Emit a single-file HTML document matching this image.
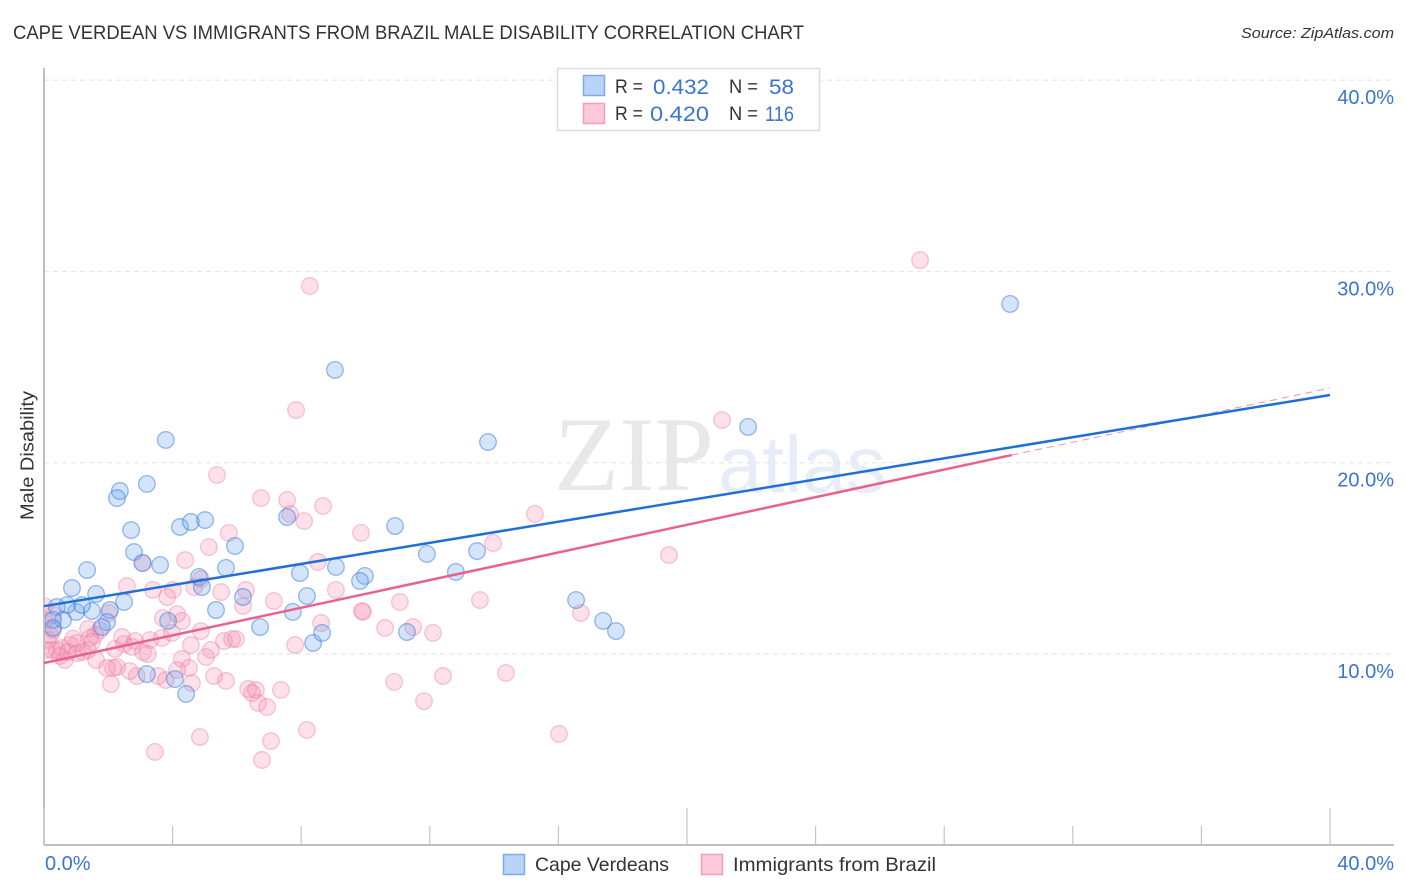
<!DOCTYPE html>
<html lang="en">
<head>
<meta charset="utf-8">
<title>Cape Verdean vs Immigrants from Brazil Male Disability Correlation Chart</title>
<style>
html,body{margin:0;padding:0;background:#fff;width:1406px;height:892px;overflow:hidden}
svg{display:block}
text{font-family:"Liberation Sans",sans-serif}
</style>
</head>
<body>
<svg id="chart" width="1406" height="892" viewBox="0 0 1406 892" xmlns="http://www.w3.org/2000/svg">
  <defs><clipPath id="plot-clip"><rect x="45" y="60" width="1349" height="785"/></clipPath></defs>
  <text x="13" y="39" font-size="19" fill="#333" textLength="791" lengthAdjust="spacingAndGlyphs">CAPE VERDEAN VS IMMIGRANTS FROM BRAZIL MALE DISABILITY CORRELATION CHART</text>
  <text x="1241" y="38" font-size="15" font-style="italic" fill="#333" textLength="153" lengthAdjust="spacingAndGlyphs">Source: ZipAtlas.com</text>
  <text x="554" y="490" font-size="106" fill="#e8e8e8" style="font-family:'Liberation Serif',serif" textLength="160" lengthAdjust="spacingAndGlyphs">ZIP</text>
  <text x="718" y="492" font-size="80" fill="#e6edf9" textLength="168" lengthAdjust="spacingAndGlyphs">atlas</text>
  <g id="grid"></g>
  <g id="axes"></g>
  <g id="points" clip-path="url(#plot-clip)"></g>
  <g id="lines"></g>
  <text transform="translate(33.5,520) rotate(-90)" font-size="18.5" fill="#333" textLength="129" lengthAdjust="spacingAndGlyphs">Male Disability</text>
  <g>
    <rect x="557.5" y="68.5" width="262" height="62" fill="#fff" stroke="#ddd" stroke-width="1.5"/>
    <rect x="583.5" y="75.5" width="21" height="20" fill="#b9d3f7" stroke="#7eaae6" stroke-width="1.5"/>
    <rect x="583.5" y="103.5" width="21" height="20" fill="#fcc9d9" stroke="#f0a0b8" stroke-width="1.5"/>
    <text x="615" y="93" font-size="19.5" fill="#333" textLength="28" lengthAdjust="spacingAndGlyphs">R =</text>
    <text x="653" y="94" font-size="21" fill="#3a74d2" textLength="56" lengthAdjust="spacingAndGlyphs">0.432</text>
    <text x="729" y="93" font-size="19.5" fill="#333" textLength="29" lengthAdjust="spacingAndGlyphs">N =</text>
    <text x="769" y="94" font-size="21" fill="#3a74d2" textLength="25" lengthAdjust="spacingAndGlyphs">58</text>
    <text x="615" y="120" font-size="19.5" fill="#333" textLength="28" lengthAdjust="spacingAndGlyphs">R =</text>
    <text x="650" y="121" font-size="21" fill="#3a74d2" textLength="59" lengthAdjust="spacingAndGlyphs">0.420</text>
    <text x="729" y="120" font-size="19.5" fill="#333" textLength="29" lengthAdjust="spacingAndGlyphs">N =</text>
    <text x="765" y="121" font-size="21" fill="#3a74d2" textLength="29" lengthAdjust="spacingAndGlyphs">116</text>
  </g>
  <g>
    <rect x="503.5" y="854.5" width="21" height="20" fill="#b9d3f7" stroke="#7eaae6" stroke-width="1.5"/>
    <text x="535" y="871" font-size="19.5" fill="#333" textLength="134" lengthAdjust="spacingAndGlyphs">Cape Verdeans</text>
    <rect x="701.5" y="854.5" width="21" height="20" fill="#fcc9d9" stroke="#f0a0b8" stroke-width="1.5"/>
    <text x="733" y="871" font-size="19.5" fill="#333" textLength="203" lengthAdjust="spacingAndGlyphs">Immigrants from Brazil</text>
  </g>
</svg>
<script>
var blueX=[2.80,3.06,3.61,5.94,1.34,0.87,1.62,5.66,4.82,4.91,7.96,9.08,8.18,7.74,6.19,5.35,6.72,2.49,2.05,1.49,1.00,1.18,0.72,0.40,0.59,0.28,1.96,1.80,0.28,3.86,8.37,8.65,3.20,4.07,4.42,30.05,9.05,3.79,13.81,21.90,2.36,2.27,3.20,2.71,4.23,4.57,5.01,7.56,10.92,11.91,13.47,12.81,9.98,9.83,16.55,17.39,17.79,11.29];
var blueY=[15.33,14.76,14.65,15.65,14.39,13.45,13.14,14.50,14.03,13.50,14.23,14.55,13.03,12.20,12.98,12.30,11.41,12.72,12.30,12.25,12.20,12.56,12.56,12.46,11.78,11.78,11.67,11.41,11.36,11.73,10.58,11.10,8.95,8.69,7.91,28.30,24.85,21.19,21.08,21.87,18.52,18.15,18.89,16.48,16.64,16.90,17.00,17.16,16.69,15.23,15.38,14.29,14.08,13.82,12.82,11.73,11.20,11.15];
var pinkX=[27.25,8.27,7.84,21.09,5.38,15.27,13.97,19.44,13.56,16.70,14.37,12.41,10.89,11.82,16.02,6.75,7.56,8.68,8.09,9.86,7.65,5.75,5.13,4.39,8.52,3.08,2.58,3.39,4.01,3.83,4.67,4.88,5.51,6.28,6.19,7.15,9.08,11.07,9.92,9.89,10.61,11.48,12.10,7.81,8.62,4.14,3.70,4.29,4.88,4.57,5.19,5.04,5.60,5.85,5.97,4.29,4.51,4.14,5.29,5.66,4.60,3.79,3.55,2.89,2.67,2.27,1.96,2.15,2.08,1.62,0.65,6.35,6.59,6.47,6.66,6.94,7.37,8.18,7.06,6.78,4.85,3.45,2.02,1.74,1.37,1.59,1.43,2.43,2.83,3.30,3.67,3.98,2.49,2.74,2.21,3.08,3.23,1.21,1.03,0.81,0.56,0.40,0.75,1.03,0.19,0.25,0.28,0.28,0.12,0.06,0.02,0.02,1.37,0.50,1.49,0.90];
var pinkY=[30.59,29.24,22.75,22.23,19.36,17.32,15.80,15.17,12.82,12.14,9.01,8.85,8.54,7.54,5.82,18.15,18.05,17.74,16.95,16.33,17.32,16.33,15.59,14.91,14.81,14.76,13.55,13.35,13.35,12.98,13.50,13.92,13.24,13.35,12.51,12.77,13.35,12.72,12.20,12.25,11.36,11.41,11.10,10.47,11.62,12.09,11.88,11.73,11.20,10.47,10.21,9.84,10.68,10.78,10.78,9.74,9.27,9.16,8.85,8.59,8.48,8.64,8.85,8.85,9.11,9.32,9.27,9.27,8.43,9.69,9.69,8.17,8.12,7.96,7.44,7.23,8.12,6.03,5.45,4.46,5.66,4.88,12.14,11.25,11.31,10.99,10.84,10.89,10.68,10.73,10.84,11.10,10.52,10.37,10.26,10.10,10.00,10.10,10.58,10.47,10.31,10.21,10.10,10.05,10.99,10.21,11.25,12.04,10.73,10.21,12.50,11.78,10.21,9.90,10.63,10.80];
var blueTrendX=[0,40];
var blueTrendY=[12.5,23.54];
var pinkTrendX=[0,30.1];
var pinkTrendY=[9.53,20.4];
var pinkDashX=[30.1,40];
var pinkDashY=[20.4,23.9];
var yTicks=[10,20,30,40];
var yTickLabels=["10.0%","20.0%","30.0%","40.0%"];
var xTicks=[0,4,8,12,16,20,24,28,32,36,40];
var xMajorTicks=[0,20,40];
var xEndLabels=["0.0%","40.0%"];

function sx(v){return 44+v*32.15;}
function sy(v){return 654-(v-10)*19.13;}
var NS='http://www.w3.org/2000/svg';
function make(tag,parent,attrs){
  var e=document.createElementNS(NS,tag);
  for(var k in attrs){e.setAttribute(k,attrs[k]);}
  parent.appendChild(e);
  return e;
}
var gGrid=document.getElementById('grid');
var gAxes=document.getElementById('axes');
var gPts=document.getElementById('points');
var gLines=document.getElementById('lines');

yTicks.forEach(function(t,i){
  var l=make('line',gGrid,{x1:44,x2:1394,y1:sy(t),y2:sy(t),stroke:'#e2e2e2','stroke-width':1,'stroke-dasharray':'5 4'});
  
  
  var tx=make('text',gAxes,{x:1394,y:sy(t)+24,'font-size':20,fill:'#3a74d2','text-anchor':'end'});
  
  
  tx.textContent=yTickLabels[i];
});
var yAxis=make('line',gAxes,{x1:44,x2:44,y1:68,y2:845,stroke:'#aaa','stroke-width':1.5});


var xAxis=make('line',gAxes,{x1:44,x2:1394,y1:845,y2:845,stroke:'#aaa','stroke-width':1.5});


xTicks.forEach(function(t){
  var top=xMajorTicks.indexOf(t)>=0?808:826;
  var l=make('line',gAxes,{x1:sx(t),x2:sx(t),y1:top,y2:845,stroke:'#c4c4c4','stroke-width':1.2});
  
  
});
var xl0=make('text',gAxes,{x:45,y:870,'font-size':20,fill:'#3a74d2'});


xl0.textContent=xEndLabels[0];
var xl1=make('text',gAxes,{x:1394,y:870,'font-size':20,fill:'#3a74d2','text-anchor':'end'});


xl1.textContent=xEndLabels[1];

pinkX.forEach(function(v,i){
  var c=make('circle',gPts,{cx:sx(v),cy:sy(pinkY[i]),r:8.3,fill:'#f78fb0','fill-opacity':0.28,stroke:'#ea7d9f','stroke-opacity':0.42,'stroke-width':1.3});
  
  
});
blueX.forEach(function(v,i){
  var c=make('circle',gPts,{cx:sx(v),cy:sy(blueY[i]),r:8.3,fill:'#72a5ee','fill-opacity':0.3,stroke:'#3f7fdc','stroke-opacity':0.55,'stroke-width':1.3});
  
  
});
var pd=make('line',gLines,{x1:sx(pinkDashX[0]),y1:sy(pinkDashY[0]),x2:sx(pinkDashX[1]),y2:sy(pinkDashY[1]),stroke:'#e8628f','stroke-width':1,'stroke-dasharray':'7 5','stroke-opacity':0.7});


var pl=make('line',gLines,{x1:sx(pinkTrendX[0]),y1:sy(pinkTrendY[0]),x2:sx(pinkTrendX[1]),y2:sy(pinkTrendY[1]),stroke:'#e8628f','stroke-width':2.5});


var bl=make('line',gLines,{x1:sx(blueTrendX[0]),y1:sy(blueTrendY[0]),x2:sx(blueTrendX[1]),y2:sy(blueTrendY[1]),stroke:'#1f6fd6','stroke-width':2.5});


</script>
</body>
</html>
